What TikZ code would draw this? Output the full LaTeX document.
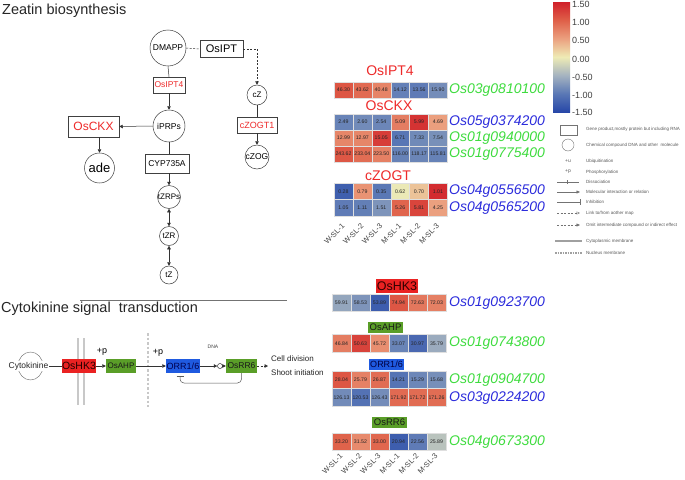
\documentclass[tikz,border=0pt]{standalone}
\usepackage{fontspec}
\setmainfont{Liberation Sans}
\usetikzlibrary{arrows.meta,calc}
\definecolor{titlered}{HTML}{EE2A2A}
\definecolor{genegreen}{HTML}{3EDC3E}
\definecolor{geneblue}{HTML}{2C2CDC}
\definecolor{boxred}{HTML}{EA2222}
\definecolor{boxgreen}{HTML}{5A9E28}
\definecolor{boxblue}{HTML}{1F5AE0}
\definecolor{memgray}{HTML}{C8C8C8}
\definecolor{hmA}{HTML}{2747A8}
\definecolor{hmB}{HTML}{5A78B5}
\definecolor{hmC}{HTML}{A5B3C0}
\definecolor{hmD}{HTML}{EEEBB5}
\definecolor{hmE}{HTML}{EBA07F}
\definecolor{hmF}{HTML}{DF6049}
\definecolor{hmG}{HTML}{D0202A}
\pgfdeclareverticalshading{hmbar}{100bp}{color(0bp)=(hmA); color(25bp)=(hmA); color(33.333bp)=(hmB); color(41.667bp)=(hmC); color(50bp)=(hmD); color(58.333bp)=(hmE); color(66.667bp)=(hmF); color(75bp)=(hmG); color(100bp)=(hmG)}
\newcommand\hmcolor[1]{%
  \pgfmathsetmacro\hmt{max(0,min(5.999,(#1+1.5)*2))}%
  \pgfmathtruncatemacro\hmseg{\hmt}%
  \pgfmathsetmacro\hmpct{(\hmt-\hmseg)*100}%
  \ifcase\hmseg\relax
    \colorlet{cellc}{hmB!\hmpct!hmA}\or
    \colorlet{cellc}{hmC!\hmpct!hmB}\or
    \colorlet{cellc}{hmD!\hmpct!hmC}\or
    \colorlet{cellc}{hmE!\hmpct!hmD}\or
    \colorlet{cellc}{hmF!\hmpct!hmE}\or
    \colorlet{cellc}{hmG!\hmpct!hmF}\fi}
\newcommand\hrow[5]{%
  \foreach \hv/\hz [count=\hi from 0] in {#5}{%
    \hmcolor{\hz}%
    \fill[cellc, draw=white!75!gray, line width=0.3pt] ({#1+\hi*#3},#2) rectangle ++(#3,#4);
    \node[cellv] at ({#1+(\hi+0.5)*#3},{#2+#4/2}) {\hv};
  }}
\newcommand\hcols[3]{% x0, w, y
  \foreach \cl [count=\ci from 0] in {W-SL-1,W-SL-2,W-SL-3,M-SL-1,M-SL-2,M-SL-3}{%
    \node[collab] at ({#1+(\ci+0.5)*#2},#3) {\cl};
  }}
\tikzset{
 cnode/.style={circle, draw=black!75, line width=0.5pt, inner sep=0pt, font=\fontsize{8.5}{9}\selectfont},
 gbox/.style={draw=black!75, line width=0.5pt, inner sep=0.5pt, font=\fontsize{8.5}{9}\selectfont},
 ln/.style={line width=0.5pt, draw=black!80},
 arr/.style={ln, -{Triangle[length=3.5pt,width=3.5pt]}},
 darr/.style={ln, {Triangle[length=3.5pt,width=3.5pt]}-{Triangle[length=3.5pt,width=3.5pt]}},
 dsh/.style={dash pattern=on 2pt off 1.5pt},
 genelab/.style={anchor=west, font=\fontsize{14}{15}\selectfont\itshape, inner sep=0pt},
 grplab/.style={text=titlered, font=\fontsize{14}{15}\selectfont, inner sep=0pt},
 collab/.style={rotate=45, anchor=east, font=\fontsize{7.5}{8}\selectfont, text=black!75, inner sep=0pt},
 cellv/.style={font=\fontsize{5.2}{6}\selectfont, text=black!85, inner sep=0pt},
 legtxt/.style={anchor=west, font=\fontsize{4.5}{5}\selectfont, text=black!65, inner sep=0pt},
 legsym/.style={draw=black!55, line width=0.4pt},
 cbtxt/.style={anchor=west, font=\fontsize{9}{10}\selectfont, text=black!75, inner sep=0pt},
 title/.style={anchor=west, font=\fontsize{14.5}{16}\selectfont, text=black!85, inner sep=0pt},
 fbox/.style={inner sep=0pt, minimum height=14pt},
}
\begin{document}
\begin{tikzpicture}[x=1pt,y=-1pt]
\useasboundingbox (0,0) rectangle (685,479);
\fill[white] (0,0) rectangle (685,479);

% ===== Titles =====
\node[title] (t1) at (2,11) {Zeatin biosynthesis};
\node[title] (t2) at (1,309) {Cytokinine signal\ \ transduction};
\coordinate (hl1) at (80,300);
\coordinate (hl2) at (287,300);
\draw[black!55, line width=0.6pt] (hl1) -- (hl2);

% ===== Zeatin pathway =====
\node[cnode, minimum size=36pt] (dmapp) at (168,48) {DMAPP};
\node[gbox, minimum width=43pt, minimum height=17pt, font=\fontsize{11}{12}\selectfont] (osipt) at (221.5,49) {OsIPT};
\node[gbox, minimum width=32pt, minimum height=16pt, text=titlered] (osipt4) at (169,85) {OsIPT4};
\node[cnode, minimum size=32pt] (iprps) at (169,126) {iPRPs};
\node[gbox, minimum width=51pt, minimum height=21pt, text=titlered, font=\fontsize{12}{13}\selectfont] (osckx) at (93.5,126.5) {OsCKX};
\node[cnode, minimum size=30pt, font=\fontsize{13}{14}\selectfont] (ade) at (99.5,168) {ade};
\node[gbox, minimum width=44pt, minimum height=19pt] (cyp) at (167,163.5) {CYP735A};
\node[cnode, minimum size=23pt, font=\fontsize{8}{9}\selectfont] (tzrps) at (169,197) {tZRPs};
\node[cnode, minimum size=19pt, font=\fontsize{8}{9}\selectfont] (tzr) at (169,236) {tZR};
\node[cnode, minimum size=18pt, font=\fontsize{8}{9}\selectfont] (tz) at (169,275) {tZ};
\node[cnode, minimum size=20pt, font=\fontsize{8}{9}\selectfont] (cz) at (257,95) {cZ};
\node[gbox, minimum width=40pt, minimum height=16pt, text=titlered, font=\fontsize{9}{10}\selectfont] (czogt1) at (257,125) {cZOGT1};
\node[cnode, minimum size=24pt, font=\fontsize{8.5}{9}\selectfont] (czog) at (257,157) {cZOG};

\draw[ln, dsh] (dmapp.east) -- (osipt.west);
\draw[arr, dsh] (osipt.east) -| (cz.north);
\draw[ln] (dmapp.south) -- (osipt4.north);
\draw[arr] (osipt4.south) -- (iprps.north);
\draw[arr] (iprps.west) -- (osckx.east);
\draw[arr] (ade.north |- osckx.south) -- (ade.north);
\draw[ln] (iprps.south) -- (iprps.south |- cyp.north);
\draw[arr] (tzrps.north |- cyp.south) -- (tzrps.north);
\draw[darr] (tzrps.south) -- (tzr.north);
\draw[darr] (tzr.south) -- (tz.north);
\draw[ln] (cz.south) -- (czogt1.north);
\draw[arr] (czogt1.south) -- (czog.north);

% ===== Cytokinin signal pathway =====
\draw[memgray, line width=1.8pt] (78,338) -- (78,405);
\draw[memgray, line width=1.8pt] (84,338) -- (84,405);
\draw[memgray, line width=2.2pt, dash pattern=on 2.5pt off 2pt] (148,333) -- (148,407);
\draw[black!60, line width=0.4pt] (30.5,366) ellipse [x radius=12.5pt, y radius=14pt];
\node[fill=white, inner sep=0.6pt, font=\fontsize{8.5}{9}\selectfont, text=black!85] (cyto) at (28.5,366) {Cytokinine};
\node[fbox, fill=boxred, minimum width=34pt, font=\fontsize{10.5}{11}\selectfont, text=black!85!red] (oshk3) at (79,366) {OsHK3};
\node[fbox, fill=boxgreen, minimum width=30pt, font=\fontsize{8}{9}\selectfont, text=black!90] (osahp) at (121,366) {OsAHP};
\node[fbox, fill=boxblue, minimum width=34pt, font=\fontsize{9}{10}\selectfont, text=black!70!blue] (orr) at (183,366) {ORR1/6};
\node[circle, draw=black!80, line width=0.5pt, minimum size=5pt, inner sep=0pt] (dnac) at (220,366) {};
\node[fbox, fill=boxgreen, minimum width=31pt, font=\fontsize{8.5}{9}\selectfont, text=black!90] (osrr6) at (241.5,366) {OsRR6};
\node[anchor=west, inner sep=0pt, font=\fontsize{8}{9}\selectfont, text=black!85] (celldiv) at (271,359) {Cell division};
\node[anchor=west, inner sep=0pt, font=\fontsize{8}{9}\selectfont, text=black!85] (shoot) at (271,373) {Shoot initiation};
\node[inner sep=0pt, font=\fontsize{5}{6}\selectfont, text=black!75] (dna) at (213,347) {DNA};
\node[inner sep=0pt, font=\fontsize{9}{10}\selectfont] (p1) at (102,352) {+p};
\node[inner sep=0pt, font=\fontsize{9}{10}\selectfont] (p2) at (158,353) {+p};
\coordinate (cdiv) at (268,366);
\coordinate (fb) at (180,383);

\draw[ln] (cyto) -- (oshk3);
\draw[arr] (oshk3) -- (osahp);
\draw[arr] (osahp) -- (orr);
\draw[arr] (orr) -- (dnac);
\draw[arr] (dnac) -- (osrr6);
\draw[arr, dsh] (osrr6.east) -- (cdiv);
\draw[ln, black!65, rounded corners=4pt, -{Bar[width=7pt]}] (osrr6.south) -- (osrr6.south |- fb) -- (fb) -- ($(fb |- orr.south)+(0,3)$);

% ===== Heatmap top =====
\node[grplab] (gIPT4) at (390,71) {OsIPT4};
\hrow{334}{82}{18.9}{16}{46.30/1.08,43.62/0.92,40.48/0.72,14.12/-0.93,13.56/-0.97,15.90/-0.82}
\node[genelab, text=genegreen] (g1) at (449,90) {Os03g0810100};

\node[grplab] (gCKX) at (389,106) {OsCKX};
\hrow{334}{114}{18.9}{16}{2.49/-0.91,2.60/-0.84,2.54/-0.88,5.09/0.77,5.99/1.35,4.69/0.51}
\hrow{334}{130}{18.9}{16}{12.99/0.70,12.97/0.70,15.05/1.27,6.71/-1.02,7.33/-0.85,7.54/-0.80}
\hrow{334}{146}{18.9}{16}{243.62/1.07,233.04/0.90,223.50/0.75,116.00/-0.92,118.17/-0.89,115.81/-0.92}
\node[genelab, text=geneblue] (g2) at (449,122) {Os05g0374200};
\node[genelab, text=genegreen] (g3) at (449,138) {Os01g0940000};
\node[genelab, text=genegreen] (g4) at (449,154) {Os01g0775400};

\node[grplab] (gZOGT) at (388,176) {cZOGT};
\hrow{334}{183}{18.9}{16.5}{0.28/-1.26,0.79/0.60,0.35/-1.00,0.62/-0.02,0.70/0.27,1.01/1.41}
\hrow{334}{199.5}{18.9}{16.5}{1.05/-0.97,1.11/-0.94,1.51/-0.76,5.26/0.96,5.81/1.21,4.25/0.50}
\node[genelab, text=geneblue] (g5) at (449,191) {Os04g0556500};
\node[genelab, text=geneblue] (g6) at (449,208) {Os04g0565200};
\hcols{334}{18.9}{225}

% ===== Heatmap bottom =====
\node[fill=boxred, inner sep=0.5pt, minimum width=40pt, minimum height=14pt, font=\fontsize{12.5}{13}\selectfont, text=black!80!red] (hHK3) at (397,286) {OsHK3};
\hrow{332}{294}{19}{17.5}{59.91/-0.61,58.53/-0.76,53.89/-1.28,74.94/1.08,72.63/0.82,72.03/0.75}
\node[genelab, text=geneblue] (g7) at (449,303) {Os01g0923700};

\node[fill=boxgreen, inner sep=0.5pt, minimum width=35pt, minimum height=11pt, font=\fontsize{9.5}{10}\selectfont, text=black!90] (hAHP) at (385.5,327) {OsAHP};
\hrow{332}{334.5}{19}{17.5}{46.84/0.77,50.63/1.23,45.72/0.64,33.07/-0.90,30.97/-1.16,35.79/-0.57}
\node[genelab, text=genegreen] (g8) at (449,343) {Os01g0743800};

\node[fill=boxblue, inner sep=0.5pt, minimum width=35pt, minimum height=11pt, font=\fontsize{9}{10}\selectfont, text=black!75!blue] (hORR) at (386.5,364) {ORR1/6};
\hrow{332}{371}{19}{17.5}{28.04/1.08,25.79/0.74,26.87/0.90,14.21/-1.04,15.29/-0.87,15.68/-0.81}
\hrow{332}{388.5}{19}{17.5}{126.13/-0.84,120.53/-1.06,126.43/-0.83,171.92/0.92,171.72/0.91,171.26/0.90}
\node[genelab, text=genegreen] (g9) at (449,380) {Os01g0904700};
\node[genelab, text=geneblue] (g10) at (449,398) {Os03g0224200};

\node[fill=boxgreen, inner sep=0.5pt, minimum width=35pt, minimum height=11pt, font=\fontsize{9.5}{10}\selectfont, text=black!90] (hRR6) at (389.5,422.5) {OsRR6};
\hrow{332}{433}{19}{17.5}{33.20/0.98,31.52/0.67,33.00/0.95,20.94/-1.27,22.56/-0.97,25.89/-0.36}
\node[genelab, text=genegreen] (g11) at (449,442) {Os04g0673300};
\hcols{332}{19}{455}

% ===== Colour bar =====
\shade[shading=hmbar] (553,2) rectangle (570,112);
\node[cbtxt] (cb1) at (572,4) {1.50};
\node[cbtxt] (cb2) at (572,22) {1.00};
\node[cbtxt] (cb3) at (572,40) {0.50};
\node[cbtxt] (cb4) at (572,59) {0.00};
\node[cbtxt] (cb5) at (572,77) {-0.50};
\node[cbtxt] (cb6) at (572,95) {-1.00};
\node[cbtxt] (cb7) at (572,112) {-1.50};

% ===== Legend =====
\draw[legsym] (560,125) rectangle (577,135);
\node[legtxt] (l1) at (586,129) {Gene product,mostly protein but including RNA};
\draw[legsym] (568,145) circle [radius=6pt];
\node[legtxt] (l2) at (586,145) {Chemical compound DNA and other\ \ molecule};
\node[inner sep=0pt, font=\fontsize{5}{6}\selectfont, text=black!65] (lu) at (568,161) {+u};
\node[legtxt] (l3) at (586,161) {Ubiquitination};
\node[inner sep=0pt, font=\fontsize{5}{6}\selectfont, text=black!65] (lp) at (568,172) {+p};
\node[legtxt] (l4) at (586,172) {Phosphorylation};
\draw[legsym] (557,182) -- (579,182);
\draw[legsym] (567,180) -- (567,184);
\node[legtxt] (l5) at (586,182) {Dissociation};
\draw[legsym, -{Triangle[length=3.5pt,width=3pt]}] (557,192) -- (580,192);
\node[legtxt] (l6) at (586,192) {Molecular interaction or relation};
\draw[legsym, -{Bar[width=6pt]}] (557,202) -- (580,202);
\node[legtxt] (l7) at (586,202) {Inhibition};
\draw[legsym, dsh, -{Triangle[open,length=3.5pt,width=3pt]}] (557,213) -- (580,213);
\node[legtxt] (l8) at (586,213) {Link to/from aother map};
\draw[legsym, dsh, -{Triangle[length=3.5pt,width=3pt]}] (557,225) -- (580,225);
\node[legtxt] (l9) at (586,225) {Omit intermediate compound or indirect effect};
\draw[memgray!80!black, line width=1.8pt] (555,241) -- (582,241);
\node[legtxt] (l10) at (586,241) {Cytoplasmic membrane};
\draw[memgray!80!black, line width=1.8pt, dash pattern=on 1.5pt off 1pt] (555,253) -- (582,253);
\node[legtxt] (l11) at (586,253) {Nucleus membrane};
\end{tikzpicture}
\end{document}
